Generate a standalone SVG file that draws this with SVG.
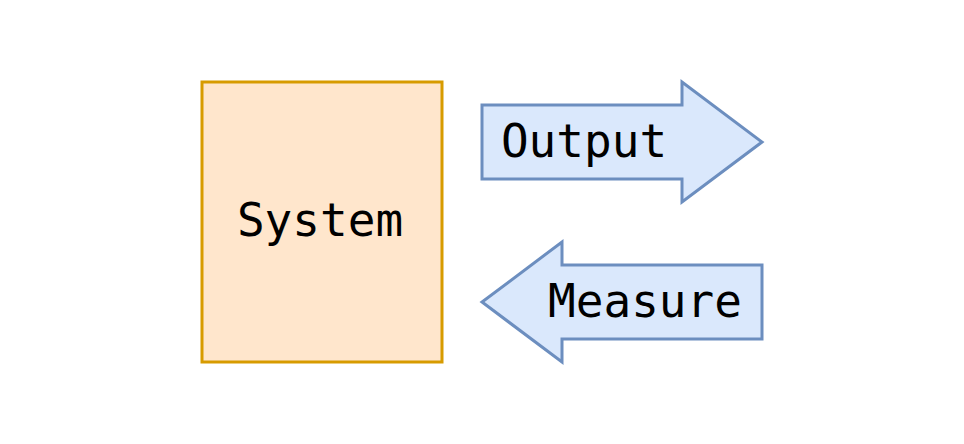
<svg xmlns="http://www.w3.org/2000/svg" width="964" height="444" viewBox="0 0 964 444">
<style>
.t{font-family:"DejaVu Sans Mono","Liberation Mono",monospace;font-size:46px;fill:#000;text-anchor:middle}
.arr{fill:#dae8fc;stroke:#6c8ebf;stroke-width:3;stroke-linejoin:miter}
</style>
<rect width="964" height="444" fill="#fff"/>
<g id="system">
<rect x="202" y="82" width="240" height="280" fill="#ffe6cc" stroke="#d79b00" stroke-width="3"/>
<text class="t" x="320" y="236">System</text>
</g>
<g id="connectors">
<g id="output">
<polygon class="arr" points="482,105 682,105 682,82 762,142 682,202 682,179 482,179"/>
<text class="t" x="584" y="157">Output</text>
</g>
<g id="measure">
<polygon class="arr" points="762,265 562,265 562,242 482,302 562,362 562,339 762,339"/>
<text class="t" x="645" y="317">Measure</text>
</g>
</g>
</svg>
